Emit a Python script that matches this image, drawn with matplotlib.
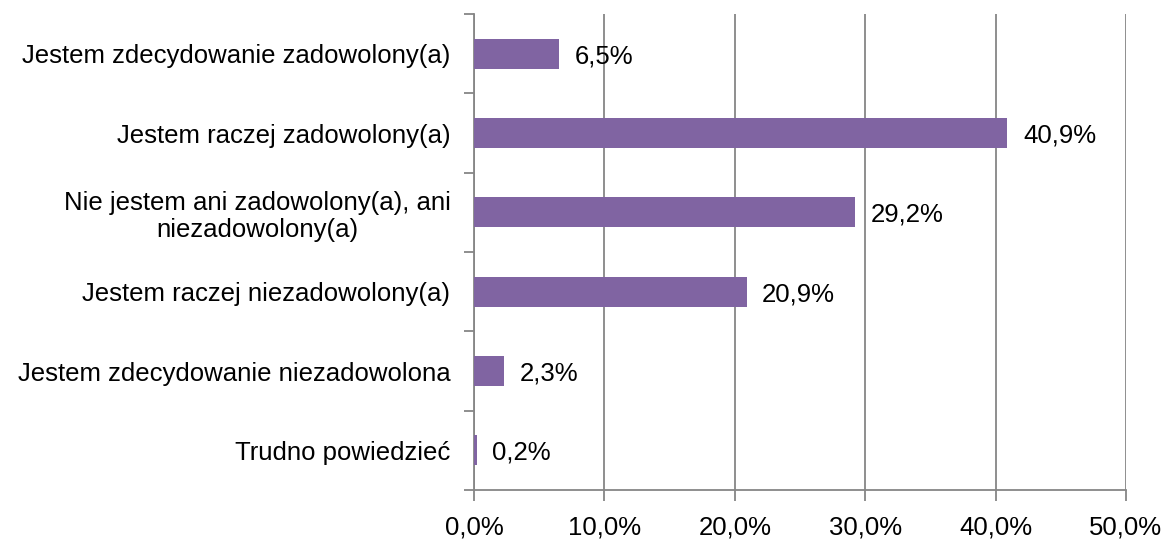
import matplotlib
matplotlib.use("Agg")
import matplotlib.pyplot as plt
from matplotlib.ticker import FuncFormatter

# data
categories = [
    "Jestem zdecydowanie zadowolony(a)",
    "Jestem raczej zadowolony(a)",
    "Nie jestem ani zadowolony(a), ani\nniezadowolony(a)",
    "Jestem raczej niezadowolony(a)",
    "Jestem zdecydowanie niezadowolona",
    "Trudno powiedzieć",
]
values = [6.5, 40.9, 29.2, 20.9, 2.3, 0.2]
xticks = [0, 10, 20, 30, 40, 50]

plt.rcParams["font.family"] = ["Liberation Sans", "DejaVu Sans"]
fs = 18.5

fig = plt.figure(figsize=(11.63, 5.39), dpi=100)
ax = fig.add_axes([0.4076, 0.0909, 0.5605, 0.883])

grey = "#868686"
pos = list(range(len(categories)))
ax.barh(pos, values, height=0.38, color="#8064A2", zorder=3)
ax.set_ylim(len(categories) - 0.5, -0.5)
ax.set_xlim(0, 50)

for p, v in zip(pos, values):
    ax.text(v + 1.2, p, f"{v:.1f}%".replace(".", ","), va="center_baseline",
            ha="left", fontsize=fs, color="black")

ax.set_xticks(xticks)
ax.xaxis.set_major_formatter(FuncFormatter(lambda x, _: f"{x:.1f}%".replace(".", ",")))
ax.grid(axis="x", color=grey, linewidth=1.3, zorder=0)

# category labels in the middle, ticks between categories
ax.set_yticks([p - 0.5 for p in pos] + [len(categories) - 0.5])
ax.set_yticklabels([])
ax.set_yticks(pos, minor=True)
ax.set_yticklabels(categories, minor=True, fontsize=fs)
ax.tick_params(axis="y", which="minor", length=0, pad=17)
ax.tick_params(axis="y", which="major", length=7, width=1.3, color=grey)
ax.tick_params(axis="x", length=8, width=1.3, color=grey, labelsize=fs, pad=10)
for lbl in ax.get_yticklabels(minor=True):
    lbl.set_multialignment("center")
    lbl.set_linespacing(1.15)

for s in ["top", "right"]:
    ax.spines[s].set_visible(False)
for s in ["left", "bottom"]:
    ax.spines[s].set_color(grey)
    ax.spines[s].set_linewidth(1.3)

fig.savefig("out.png", dpi=100)
